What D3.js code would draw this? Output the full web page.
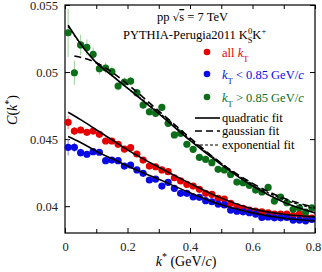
<!DOCTYPE html>
<html><head><meta charset="utf-8">
<script src="https://cdn.jsdelivr.net/npm/d3@7"></script>
<style>body{margin:0;background:#fff}text{font-family:"Liberation Serif","Times New Roman",serif}</style>
</head><body><svg id="c" width="322" height="272"></svg>
<script>
const kStar = [0.01,0.03,0.05,0.07,0.09,0.11,0.13,0.15,0.17,0.19,0.21,0.23,0.25,0.27,0.29,0.31,0.33,0.35,0.37,0.39,0.41,0.43,0.45,0.47,0.49,0.51,0.53,0.55,0.57,0.59,0.61,0.63,0.65,0.67,0.69,0.71,0.73,0.75,0.77,0.79];
const allKT = [0.04625,0.0456,0.04568,0.04551,0.0456,0.04536,0.04486,0.04486,0.04461,0.04426,0.04436,0.04389,0.04344,0.04299,0.04294,0.0427,0.04257,0.04212,0.04188,0.04163,0.0415,0.04126,0.04096,0.04088,0.04059,0.04053,0.04021,0.03996,0.03984,0.03971,0.03963,0.03958,0.03951,0.03941,0.03941,0.03941,0.03929,0.03941,0.03921,0.03911];
const lowKT = [0.04439,0.04439,0.04399,0.04387,0.04406,0.04402,0.04339,0.04344,0.04339,0.04299,0.04307,0.0427,0.04245,0.04195,0.04202,0.0415,0.04178,0.04133,0.04096,0.04096,0.0407,0.04066,0.04041,0.04033,0.04016,0.04009,0.03971,0.03963,0.03958,0.03951,0.03941,0.03916,0.0392,0.03913,0.03913,0.03916,0.03896,0.03896,0.03891,0.03901];
const highKT = [0.05293,0.04995,0.05202,0.05184,0.05132,0.05025,0.0503,0.05003,0.04896,0.04926,0.04933,0.04846,0.04754,0.04704,0.04692,0.04737,0.04618,0.04531,0.04543,0.04461,0.04424,0.04364,0.04349,0.04324,0.04275,0.0427,0.04237,0.0418,0.04175,0.04155,0.0412,0.04106,0.0414,0.04038,0.04068,0.04026,0.03977,0.03988,0.03956,0.03988];
const errAll = [0.0005,0.0003,0.00025,0.0002,0.0002,0.0002,0.00018,0.00016,0.00015,0.00015,0.00014,0.00013,0.00013,0.00012,0.00012,0.00011,0.00011,0.0001,0.0001,0.0001,0.0001,0.0001,0.0001,0.0001,0.0001,0.0001,0.0001,0.0001,0.0001,0.0001,0.0001,0.0001,0.0001,0.0001,0.0001,0.0001,0.0001,0.0001,0.0001,0.0001];
const errLow = [0.0006,0.00035,0.0003,0.00025,0.0002,0.0002,0.00018,0.00016,0.00015,0.00015,0.00014,0.00013,0.00013,0.00012,0.00012,0.00011,0.00011,0.0001,0.0001,0.0001,0.0001,0.0001,0.0001,0.0001,0.0001,0.0001,0.0001,0.0001,0.0001,0.0001,0.0001,0.0001,0.0001,0.0001,0.0001,0.0001,0.0001,0.0001,0.0001,0.0001];
const errHigh = [0.0018,0.0009,0.00075,0.0006,0.0005,0.00045,0.0004,0.00038,0.00036,0.00034,0.00032,0.0003,0.00029,0.00028,0.00027,0.00026,0.00025,0.00024,0.00024,0.00023,0.00023,0.00022,0.00022,0.00022,0.00021,0.00021,0.00021,0.0002,0.0002,0.0002,0.0002,0.0002,0.0002,0.0002,0.0002,0.0002,0.0002,0.0002,0.0002,0.0002];
// fit curves
const fitK = [0.01,0.05,0.1,0.15,0.2,0.3,0.4,0.5,0.6,0.7,0.8];
const fitAllQuad = [0.0470,0.04645,0.0457,0.04495,0.0442,0.0429,0.0417,0.0406,0.0398,0.0394,0.0392];
const fitLowQuad = [0.0452,0.04475,0.0441,0.04355,0.0430,0.0420,0.0410,0.0401,0.0395,0.0391,0.0389];
const fitHighQuad = [0.0535,0.0521,0.0507,0.04975,0.0488,0.0469,0.0449,0.0431,0.0415,0.0403,0.0395];
const fitGausK = [0.03,0.09,0.15,0.2,0.3,0.4,0.5,0.6,0.7,0.8];
const fitHighGaus = [0.0512,0.0508,0.0500,0.0491,0.0471,0.0451,0.0432,0.0417,0.0406,0.0399];
const fitHighExpo = [0.0534,0.0521,0.0507,0.04975,0.0488,0.0470,0.0450,0.0432,0.0416,0.0405,0.0398];
const xTicks = [0,0.2,0.4,0.6,0.8];
const xMinor = [0.1,0.3,0.5,0.7];
const yTicks = [0.04,0.045,0.05,0.055];

const svg = d3.select("#c");
const L=65,R=315,T=5,B=233;
const x = d3.scaleLinear().domain([0,0.8]).range([L,R]);
const y = d3.scaleLinear().domain([0.038,0.055]).range([B,T]);
const red="#e60000", blue="#0a0ae6", green="#0d6e1a";

// frame & ticks
svg.append("rect").attr("x",L).attr("y",T).attr("width",R-L).attr("height",B-T).attr("fill","none").attr("stroke","#000").attr("stroke-width",1.2);
svg.append("g").attr("transform",`translate(0,${B})`).call(d3.axisBottom(x).tickValues(xTicks).tickSizeInner(-5).tickSizeOuter(0).tickPadding(9).tickFormat(d=>d===0?"0":d3.format(".1f")(d)));
svg.append("g").attr("transform",`translate(0,${B})`).call(d3.axisBottom(x).tickValues(xMinor).tickSize(-4).tickFormat(""));
svg.append("g").attr("transform",`translate(0,${T})`).call(d3.axisTop(x).tickValues(xTicks.concat(xMinor)).tickSize(-4).tickFormat(""));
svg.append("g").attr("transform",`translate(${L},0)`).call(d3.axisLeft(y).tickValues(yTicks).tickSizeInner(-5).tickSizeOuter(0).tickPadding(7).tickFormat(d3.format("~g")));
svg.append("g").attr("transform",`translate(${R},0)`).call(d3.axisRight(y).tickValues(yTicks).tickSize(-5).tickFormat(""));
svg.selectAll(".domain").remove();
svg.selectAll(".tick line").attr("stroke","#000");
svg.selectAll(".tick text").attr("font-size",12.5).attr("fill","#222").style("font-family","Liberation Serif");
svg.selectAll(".tick text").filter(d=>d===0.8).attr("dx",-2);
svg.selectAll(".tick text").filter(d=>d===0.055).attr("dy","0.38em");

// error bars and points
const series = [
  {v:allKT,e:errAll,c:red,ec:"#f08080"},
  {v:lowKT,e:errLow,c:blue,ec:"#8080f0"},
  {v:highKT,e:errHigh,c:green,ec:"#9ccf9c"}
];
series.forEach(s=>{
  svg.append("g").selectAll("line").data(kStar).join("line")
    .attr("x1",d=>x(d)).attr("x2",d=>x(d))
    .attr("y1",(d,i)=>y(s.v[i]-s.e[i])).attr("y2",(d,i)=>y(s.v[i]+s.e[i]))
    .attr("stroke",s.ec).attr("stroke-width",1);
});
series.forEach(s=>{
  svg.append("g").selectAll("circle").data(kStar).join("circle")
    .attr("cx",d=>x(d)).attr("cy",(d,i)=>y(s.v[i])).attr("r",3.6).attr("fill",s.c);
});

// fits
const line = (ks,vs)=>d3.line().curve(d3.curveMonotoneX).x((d,i)=>x(ks[i])).y(d=>y(d))(vs);
[fitAllQuad,fitLowQuad,fitHighQuad].forEach(v=>{
  svg.append("path").attr("d",line(fitK,v)).attr("fill","none").attr("stroke","#000").attr("stroke-width",1.6);
});
svg.append("path").attr("d",line(fitGausK,fitHighGaus)).attr("fill","none").attr("stroke","#000").attr("stroke-width",1.6).attr("stroke-dasharray","7,4");
svg.append("path").attr("d",line(fitK,fitHighExpo)).attr("fill","none").attr("stroke","#000").attr("stroke-width",1.2).attr("stroke-dasharray","3,2");

// titles
const tx = svg.append("g").attr("font-size",12.5).attr("fill","#000");
const t1 = tx.append("text").attr("x",157).attr("y",21);
t1.append("tspan").text("pp ");
t1.append("tspan").text("√").attr("font-family","DejaVu Sans").attr("font-size",10.5);
t1.append("tspan").text("s").style("text-decoration","overline");
t1.append("tspan").text(" = 7 TeV");
const t2 = tx.append("text").attr("x",123).attr("y",39);
t2.append("tspan").text("PYTHIA-Perugia2011  K");
t2.append("tspan").text("0").attr("font-size",8.5).attr("dy",-5);
t2.append("tspan").text("S").attr("font-size",8.5).attr("dx",-4.5).attr("dy",9);
t2.append("tspan").text("K").attr("dy",-4);
t2.append("tspan").text("+").attr("font-size",8.5).attr("dy",-5);

// legend
const leg = svg.append("g").attr("font-size",12.5);
const items = [{c:red,y:52,lab:"all"},{c:blue,y:74,lab:"lt"},{c:green,y:97,lab:"gt"}];
items.forEach(it=>{
  leg.append("circle").attr("cx",207).attr("cy",it.y).attr("r",3.3).attr("fill",it.c);
  const t = leg.append("text").attr("x",222).attr("y",it.y+4.5).attr("fill",it.c);
  if(it.lab==="all"){ t.append("tspan").text("all "); }
  t.append("tspan").text("k").attr("font-style","italic");
  t.append("tspan").text("T").attr("font-size",8.5).attr("dy",5);
  if(it.lab!=="all"){
    t.append("tspan").text(it.lab==="lt"?" < 0.85 GeV/":" > 0.85 GeV/").attr("dy",-5);
    t.append("tspan").text("c").attr("font-style","italic");
  }
});
const fl = [{y:118,d:null,w:1.6,lab:"quadratic fit"},{y:131,d:"7,4",w:1.6,lab:"gaussian fit"},{y:145,d:"3,2",w:1.2,lab:"exponential fit"}];
fl.forEach(f=>{
  leg.append("line").attr("x1",195).attr("x2",220).attr("y1",f.y).attr("y2",f.y).attr("stroke","#000").attr("stroke-width",f.w).attr("stroke-dasharray",f.d);
  leg.append("text").attr("x",222).attr("y",f.y+4).text(f.lab);
});

// axis labels
const yl = svg.append("text").attr("transform","translate(17,110) rotate(-90)").attr("text-anchor","middle").attr("font-size",14);
yl.append("tspan").text("C").attr("font-style","italic");
yl.append("tspan").text("(");
yl.append("tspan").text("k").attr("font-style","italic");
yl.append("tspan").text("*").attr("font-size",10).attr("dy",-5);
yl.append("tspan").text(")").attr("dy",5);
const xl = svg.append("text").attr("x",186).attr("y",266).attr("text-anchor","middle").attr("font-size",14);
xl.append("tspan").text("k").attr("font-style","italic");
xl.append("tspan").text("*").attr("font-size",10).attr("dy",-6);
xl.append("tspan").text(" (GeV/").attr("dy",6);
xl.append("tspan").text("c").attr("font-style","italic");
xl.append("tspan").text(")");
</script></body></html>
